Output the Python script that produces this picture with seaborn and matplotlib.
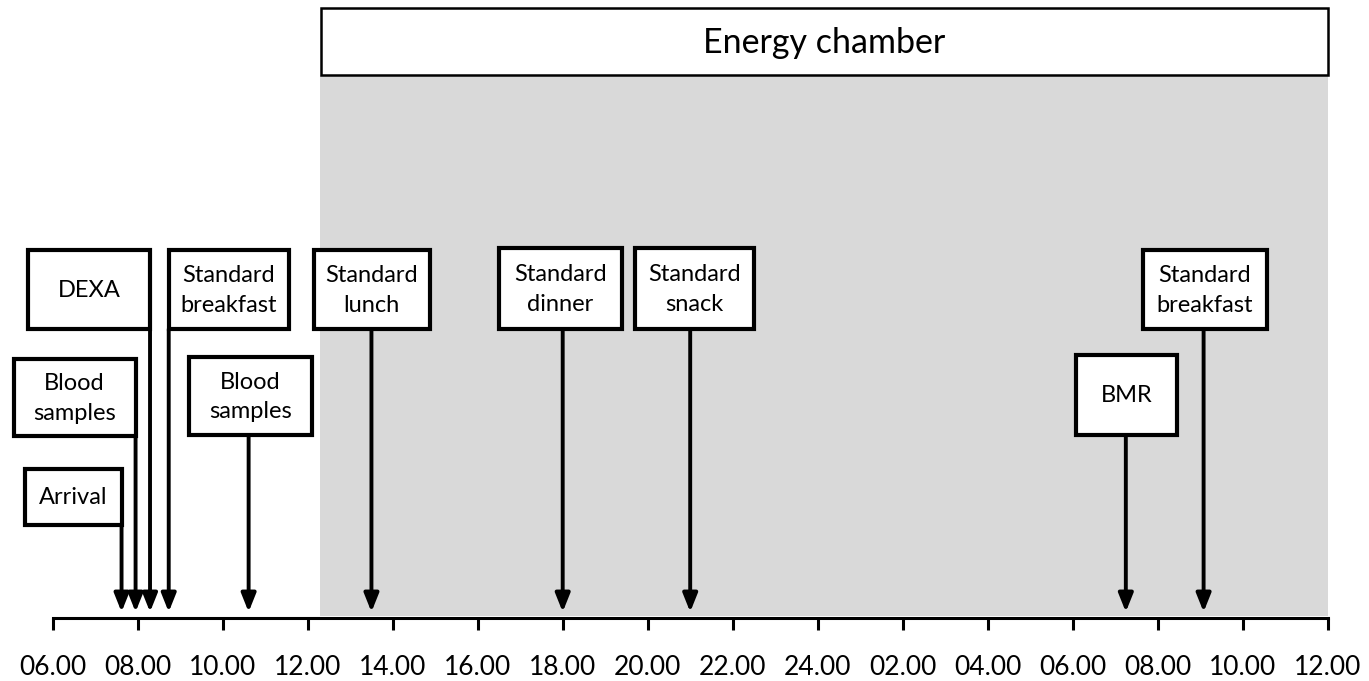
import matplotlib
matplotlib.use("Agg")
import matplotlib.pyplot as plt
from matplotlib import font_manager
from matplotlib.patches import Rectangle
import seaborn as sns

# ---- data ----
event_labels = ["Arrival", "Blood\nsamples", "DEXA", "Standard\nbreakfast",
                "Blood\nsamples", "Standard\nlunch", "Standard\ndinner",
                "Standard\nsnack", "BMR", "Standard\nbreakfast"]
event_times = [7.62, 7.95, 8.29, 8.73, 10.61, 13.5, 18.0, 21.0, 31.25, 33.08]
tick_hours = list(range(6, 37, 2))
tick_labels = ["06.00", "08.00", "10.00", "12.00", "14.00", "16.00", "18.00",
               "20.00", "22.00", "24.00", "02.00", "04.00", "06.00", "08.00",
               "10.00", "12.00"]
chamber_label = "Energy chamber"
chamber_start = 12.3
chamber_end = 36.0

# ---- layout (box extents: hours on x, pixel rows on y) ----
box_left = [5.34, 5.08, 5.41, 8.73, 9.20, 12.15, 16.50, 19.70, 30.08, 31.66]
box_right = [7.62, 7.95, 8.29, 11.56, 12.10, 14.87, 19.40, 22.50, 32.46, 34.56]
box_top = [469, 359, 250, 250, 357, 250, 248, 248, 355, 250]
box_bottom = [525, 436, 329, 329, 435, 329, 329, 329, 435, 329]

sns.set_theme(style="white")
available = {f.name for f in font_manager.fontManager.ttflist}
fam = [f for f in ["Liberation Sans Narrow", "Lato", "Open Sans"] if f in available]
plt.rcParams["font.family"] = fam + ["DejaVu Sans"]

W, H = 1369, 681
fig = plt.figure(figsize=(W / 100, H / 100), dpi=100)
ax = fig.add_axes([0, 0, 1, 1])
pxh = 42.5
x0 = 6 - 52.7 / pxh
ax.set_xlim(x0, x0 + W / pxh)
ax.set_ylim(H, 0)
ax.set_facecolor("white")

axis_y = 618

# grey chamber region
ax.fill_between([chamber_start, chamber_end], 75, 616, color="#d9d9d9", lw=0, zorder=0)
ax.add_patch(Rectangle((chamber_start + 0.02, 8), chamber_end - chamber_start - 0.02, 67,
                       facecolor="white", edgecolor="black", lw=1.8, zorder=1))
ax.text((chamber_start + chamber_end) / 2, 43, chamber_label, ha="center", va="center",
        fontsize=24.5, color="black", zorder=2)

# arrows
for t, bt, bb in zip(event_times, box_top, box_bottom):
    ax.annotate("", xy=(t, 612), xytext=(t, bb),
                arrowprops=dict(arrowstyle="-|>,head_length=0.55,head_width=0.22",
                                mutation_scale=20, lw=2.8, color="black",
                                shrinkA=0, shrinkB=0),
                zorder=3)

# boxes
for lab, l, r, bt, bb in zip(event_labels, box_left, box_right, box_top, box_bottom):
    ax.add_patch(Rectangle((l, bt), r - l, bb - bt, facecolor="white",
                           edgecolor="black", lw=3, zorder=4))
    ax.text((l + r) / 2, (bt + bb) / 2 + 1, lab, ha="center", va="center",
            fontsize=17, linespacing=1.5, color="black", zorder=5)

# time axis
sns.despine(ax=ax, left=True, top=True, right=True)
ax.spines["bottom"].set_position(("data", axis_y))
ax.spines["bottom"].set_bounds(6, 36)
ax.spines["bottom"].set_linewidth(2.2)
ax.spines["bottom"].set_color("black")
ax.set_yticks([])
ax.set_xticks(tick_hours)
ax.set_xticklabels(tick_labels, fontsize=19)
ax.tick_params(axis="x", direction="out", length=8.6, width=2.2, color="black",
               pad=18, labelcolor="black", bottom=True)

fig.savefig("out.png", dpi=100)
